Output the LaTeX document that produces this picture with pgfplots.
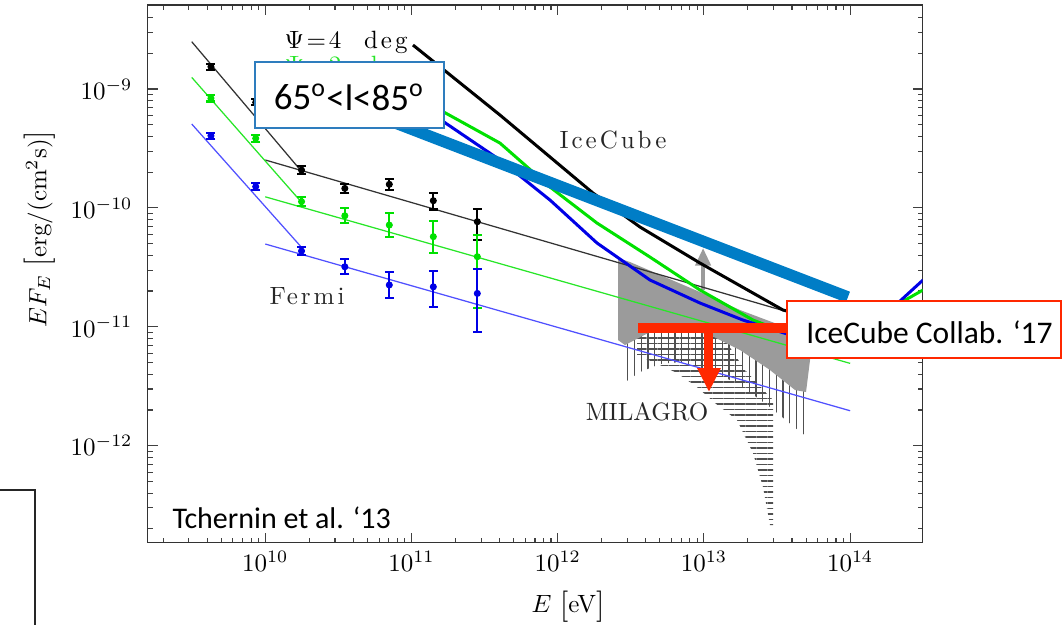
\documentclass[border=0pt]{standalone}
\usepackage{fontspec}
\usepackage{pgfplots}
\pgfplotsset{compat=1.18}
\usepackage{pgfplotstable}
\usetikzlibrary{patterns.meta,arrows.meta}

\newfontfamily\calibri{Carlito}
\newfontfamily\lmwide{lmroman10-regular.otf}[LetterSpace=12]

\definecolor{annblue}{RGB}{0,125,198}
\definecolor{boxblue}{RGB}{46,125,190}
\definecolor{annred}{RGB}{255,40,0}
\definecolor{cgreen}{RGB}{0,225,0}
\definecolor{tgreen}{RGB}{40,230,40}
\definecolor{cblue}{RGB}{0,0,230}
\definecolor{tblue}{RGB}{80,80,255}
\definecolor{hatchc}{RGB}{80,80,80}
\definecolor{milgray}{RGB}{155,155,155}

\newcommand\bigbr[1]{{\fontsize{12.5}{12.5}\selectfont\raisebox{-0.6pt}{#1}}}

% Fermi data points: energy, flux, upper and lower error
\pgfplotstableread{
x y ep em
4.25e9 1.54e-9 0.09e-9 0.09e-9
8.6e9 7.73e-10 0.45e-10 0.45e-10
1.77e10 2.08e-10 0.16e-10 0.15e-10
3.5e10 1.46e-10 0.14e-10 0.13e-10
7.05e10 1.58e-10 0.16e-10 0.16e-10
1.41e11 1.15e-10 0.19e-10 0.18e-10
2.82e11 7.66e-11 2.07e-11 2.29e-11
}\fermiblack
\pgfplotstableread{
x y ep em
4.25e9 8.35e-10 0.5e-10 0.5e-10
8.6e9 3.85e-10 0.25e-10 0.25e-10
1.77e10 1.13e-10 0.11e-10 0.10e-10
3.5e10 8.59e-11 1.34e-11 1.17e-11
7.05e10 7.18e-11 1.82e-11 1.52e-11
1.41e11 5.73e-11 2.07e-11 1.53e-11
2.82e11 3.89e-11 2.02e-11 2.45e-11
}\fermigreen
\pgfplotstableread{
x y ep em
4.25e9 4.05e-10 0.25e-10 0.25e-10
8.6e9 1.51e-10 0.10e-10 0.10e-10
1.77e10 4.34e-11 0.35e-11 0.33e-11
3.5e10 3.2e-11 0.5e-11 0.42e-11
7.05e10 2.25e-11 0.62e-11 0.51e-11
1.41e11 2.17e-11 0.79e-11 0.71e-11
2.82e11 1.91e-11 1.14e-11 1.0e-11
}\fermiblue

\pgfplotsset{
  fermipts/.style={only marks, mark=*, mark size=1.2pt,
    error bars/.cd, y dir=both, y explicit,
    error bar style={line width=0.85pt},
    error mark options={rotate=90, mark size=1.8pt, line width=0.85pt}},
}

\begin{document}
\begin{tikzpicture}
\path[use as bounding box] (0,0) rectangle (425.2pt,249.6pt);

\begin{axis}[
  at={(59pt,32.6pt)}, anchor=south west,
  width=310pt, height=215pt, scale only axis,
  xmode=log, ymode=log,
  xmin=1.565e9, xmax=3.128e14,
  ymin=1.535e-13, ymax=5.087e-9,
  tick align=inside,
  major tick length=4pt, minor tick length=2pt,
  axis line style={line width=0.6pt, black!80},
  every tick/.style={black!75, line width=0.45pt},
  xticklabel style={yshift=0pt},
  yticklabel style={xshift=-2.5pt},
  xlabel={$E$\ \bigbr{[}eV\bigbr{]}},
  ylabel={$EF_E$\ \bigbr{[}erg/(cm$^2$s)\bigbr{]}},
  xlabel style={at={(axis description cs:0.5426,-0.119)}, anchor=center, inner sep=0pt},
  ylabel style={at={(axis description cs:-0.1387,0.5833)}, anchor=center, inner sep=0pt},
]

% MILAGRO hatched bands
\addplot[draw=none, pattern={Lines[angle=90,distance=2.7pt,line width=0.5pt]}, pattern color=hatchc]
 coordinates {(2.757e12,8.05e-12) (9.40e12,1.098e-11) (2.412e13,7.03e-12) (4.994e13,3.57e-12)
  (4.994e13,1.207e-12) (4.40e13,1.355e-12) (2.832e13,2.115e-12) (1.766e13,3.24e-12)
  (1.289e13,3.93e-12) (9.40e12,4.50e-12) (6.86e12,5.06e-12) (5.01e12,4.87e-12)
  (3.656e12,4.17e-12) (2.757e12,3.30e-12)} -- cycle;
\addplot[draw=none, pattern={Lines[angle=0,distance=2.2pt,line width=0.5pt]}, pattern color=hatchc]
 coordinates {(3.487e12,9.77e-12) (1.191e13,1.035e-11) (1.91e13,4.33e-12) (2.97e13,2.42e-12)
  (2.97e13,2.15e-13) (2.832e13,2.15e-13) (2.537e13,4.49e-13) (2.167e13,8.68e-13)
  (1.684e13,1.645e-12) (1.191e13,2.286e-12) (8.97e12,3.115e-12) (6.55e12,4.09e-12)
  (5.01e12,4.77e-12) (3.487e12,5.79e-12)} -- cycle;

% grey band
\addplot[draw=none, fill=milgray]
 coordinates {(2.585e12,3.79e-11) (3.122e12,3.51e-11) (5.01e12,2.73e-11) (9.40e12,1.962e-11)
  (1.766e13,1.385e-11) (3.316e13,1.035e-11) (5.15e13,8.53e-12) (5.32e13,5.26e-12)
  (4.994e13,2.83e-12) (4.20e13,2.94e-12) (2.832e13,4.33e-12) (1.766e13,6.38e-12)
  (1.101e13,8.53e-12) (6.86e12,9.77e-12) (4.28e12,9.04e-12) (2.886e12,7.03e-12)
  (2.585e12,7.74e-12)} -- cycle;
\addplot[milgray, line width=1.6pt, -{Triangle[width=6pt,length=7pt]}]
 coordinates {(9.87e12,2.04e-11) (9.87e12,4.6e-11)};

% Fermi power-law fits
\addplot[black!80, line width=0.5pt] coordinates {(3.14e9,2.50e-9) (1.754e10,2.056e-10)};
\addplot[black!80, line width=0.5pt] coordinates {(1e10,2.53e-10) (1e14,9.4e-12)};
\addplot[tgreen, line width=0.5pt] coordinates {(3.14e9,1.253e-9) (1.754e10,1.13e-10)};
\addplot[tgreen, line width=0.5pt] coordinates {(1e10,1.24e-10) (1e14,4.93e-12)};
\addplot[tblue, line width=0.5pt] coordinates {(3.14e9,5.08e-10) (1.754e10,4.72e-11)};
\addplot[tblue, line width=0.5pt] coordinates {(1e10,4.97e-11) (1e14,1.97e-12)};

% Fermi points
\addplot[black, fermipts] table[x=x, y=y, y error plus=ep, y error minus=em] {\fermiblack};
\addplot[cgreen, fermipts] table[x=x, y=y, y error plus=ep, y error minus=em] {\fermigreen};
\addplot[cblue, fermipts] table[x=x, y=y, y error plus=ep, y error minus=em] {\fermiblue};

% neutrino-flux predictions
\addplot[black, line width=1.2pt, line join=round] coordinates {
 (1.024e11,2.344e-9) (4.03e11,6.04e-10) (1.744e12,1.334e-10) (3.656e12,6.91e-11)
 (9.40e12,3.44e-11) (3.475e13,1.385e-11) (8.53e13,1.035e-11) (1.368e14,1.14e-11) (3.15e14,1.5e-11)};
\addplot[cgreen, line width=1.2pt, line join=round] coordinates {
 (1.024e11,8.9e-10) (4.03e11,3.51e-10) (8.86e11,1.499e-10)
 (1.857e12,7.46e-11) (4.28e12,3.86e-11) (9.40e12,2.04e-11) (2.167e13,1.14e-11)
 (4.54e13,8.05e-12) (1.368e14,1.035e-11) (2.195e14,1.586e-11) (3.15e14,2.04e-11)};
\addplot[cblue, line width=1.2pt, line join=round] coordinates {
 (1.024e11,7.93e-10) (4.03e11,2.53e-10) (8.86e11,1.165e-10)
 (1.857e12,5.07e-11) (4.28e12,2.475e-11) (9.40e12,1.586e-11) (1.851e13,1.14e-11)
 (4.54e13,8.05e-12) (1.368e14,1.035e-11) (2.195e14,1.648e-11) (3.15e14,2.475e-11)};

% 65 < l < 85 deg band and IceCube 2017 upper limit
\addplot[annblue, line width=4.6pt] coordinates {(6.1e10,5.81e-10) (9.66e13,1.78e-11)};
\addplot[annred, line width=4pt] coordinates {(3.54e12,9.77e-12) (5e13,9.77e-12)};
\addplot[annred, line width=3.6pt, -{Triangle[width=8.8pt,length=9.6pt]}]
 coordinates {(1.083e13,9.77e-12) (1.083e13,2.83e-12)};
\end{axis}

% labels and annotation boxes (pixel grid, origin top left)
\begin{scope}[yshift=249.6pt, x=0.4pt, y=-0.4pt]
 \draw[line width=0.6pt, black!85] (0,490) -- (35,490) -- (35,640);
 \node[anchor=west, inner sep=0pt, font=\lmwide] at (284,42) {$\Psi\!=\!4$\ \ deg};
 \begin{scope}
  \clip (250,45) rectangle (450,62);
  \node[anchor=west, inner sep=0pt, font=\lmwide, text=tgreen] at (284,67) {$\Psi\!=\!2$\ \ deg};
 \end{scope}
 \node[inner sep=0pt, font=\lmwide, text=black!85] at (613,140) {IceCube};
 \node[inner sep=0pt, font=\lmwide, text=black!85] at (307,296) {Fermi};
 \node[inner sep=0pt, text=black!85] at (647,412) {MILAGRO};
 \draw[boxblue, line width=0.6pt, fill=white] (255,62) rectangle (444,128);
 \node[anchor=base, inner sep=0pt, font=\calibri\fontsize{14.8}{16}\selectfont] at (349,110)
   {65\textsuperscript{o}<l<85\textsuperscript{o}};
 \draw[annred, line width=0.6pt, fill=white] (787,301) rectangle (1061,358);
 \node[anchor=base, inner sep=0pt, font=\calibri\fontsize{12.6}{14}\selectfont] at (929.5,343.3)
   {IceCube Collab. ‘17};
 \node[anchor=base west, inner sep=0pt, font=\calibri\fontsize{12}{14}\selectfont] at (172,528.5)
   {Tchernin et al. ‘13};
\end{scope}
\end{tikzpicture}
\end{document}
